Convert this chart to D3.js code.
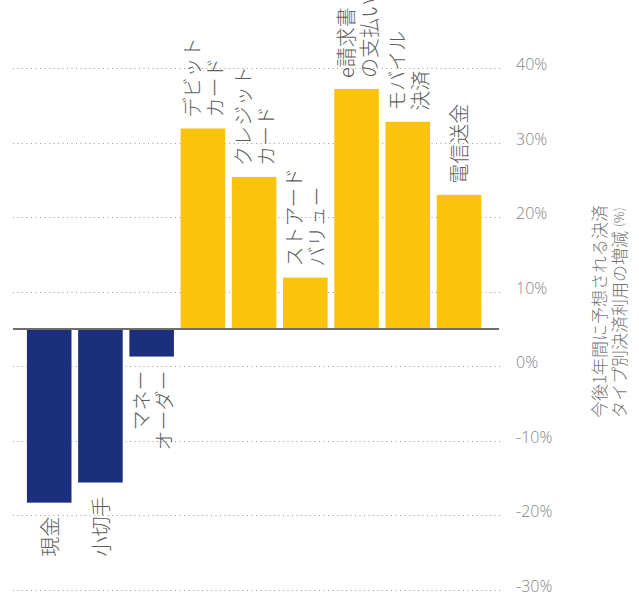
<!DOCTYPE html>
<html lang="ja">
<head>
<meta charset="utf-8">
<script src="https://cdn.jsdelivr.net/npm/d3@7"></script>
<style>
  html, body { margin: 0; padding: 0; background: #fff; }
  svg { display: block; }
  .cat { font-family: "Noto Sans CJK JP", "Noto Sans", sans-serif; font-weight: 300; fill: #5e5e5e; }
  .tick-label { font-family: "Open Sans", "Noto Sans", sans-serif; font-weight: 300; fill: #858585; }
  .title { font-family: "Noto Sans CJK JP", sans-serif; font-weight: 300; fill: #747474; }
</style>
</head>
<body>
<svg id="chart" width="639" height="595"></svg>
<script>
// Payment types and their expected change in use over the coming year (%)
const categories = [
  ["現金"],
  ["小切手"],
  ["マネー", "オーダー"],
  ["デビット", "カード"],
  ["クレジット", "カード"],
  ["ストアード", "バリュー"],
  ["e請求書", "の支払い"],
  ["モバイル", "決済"],
  ["電信送金"]
];
const changes = [-23.3, -20.6, -3.7, 26.9, 20.4, 6.9, 32.2, 27.8, 18.0];
const tickValues = [40, 30, 20, 10, 0, -10, -20, -30];
const titleLines = ["今後1年間に予想される決済", "タイプ別決済利用の増減"];

const NAVY = "#1b2f7d";
const GOLD = "#fcc30c";

const svg = d3.select("#chart");

// Axis scale for gridlines and tick labels
const y = d3.scaleLinear().domain([-30, 40]).range([590, 68.3]);

// Bars hang from the drawn baseline, which sits above the 0% gridline
const baseY = 329;
const yBar = y.copy().range(y.range().map(r => r - (y(0) - baseY)));

const x = d3.scaleBand()
  .domain(d3.range(categories.length))
  .range([23.6, 484.6])
  .paddingInner(0.13)
  .paddingOuter(0.065);

// Dotted gridlines
svg.append("g")
  .selectAll("line")
  .data(tickValues)
  .join("line")
  .attr("x1", 13).attr("x2", 500)
  .attr("y1", d => Math.round(y(d)) + 0.5)
  .attr("y2", d => Math.round(y(d)) + 0.5)
  .attr("stroke", "#9a9a9a")
  .attr("stroke-width", 1)
  .attr("stroke-dasharray", "1,3.5");

// Tick labels on the right (plain hyphen for negatives)
svg.append("g")
  .selectAll("text")
  .data(tickValues)
  .join("text")
  .attr("class", "tick-label")
  .attr("x", 516)
  .attr("y", d => y(d) + 2)
  .attr("font-size", 16)
  .text(d => String(d) + "%");

// Bars
svg.append("g")
  .selectAll("rect")
  .data(changes)
  .join("rect")
  .attr("x", (d, i) => x(i))
  .attr("width", x.bandwidth())
  .attr("y", d => Math.min(yBar(d), yBar(0)))
  .attr("height", d => Math.abs(yBar(d) - yBar(0)))
  .attr("fill", d => d < 0 ? NAVY : GOLD);

// Baseline
svg.append("line")
  .attr("x1", 13).attr("x2", 499)
  .attr("y1", baseY).attr("y2", baseY)
  .attr("stroke", "#6e6e6e")
  .attr("stroke-width", 2);

// Rotated category labels placed just beyond each bar end
const lineGap = 23;
const labels = svg.append("g")
  .selectAll("g")
  .data(categories.map((lines, i) => ({ lines, v: changes[i], i })))
  .join("g")
  .attr("transform", d => {
    const cx = x(d.i) + x.bandwidth() / 2;
    const yy = d.v >= 0 ? yBar(d.v) - 11 : yBar(d.v) + 14;
    return `translate(${cx},${yy}) rotate(-90)`;
  });

labels.each(function (d) {
  const g = d3.select(this);
  const n = d.lines.length;
  g.selectAll("text")
    .data(d.lines)
    .join("text")
    .attr("class", "cat")
    .attr("font-size", 20)
    .attr("x", 0)
    .attr("y", (t, k) => (k - (n - 1) / 2) * lineGap)
    .attr("dominant-baseline", "central")
    .attr("text-anchor", d.v >= 0 ? "start" : "end")
    .text(t => t);
});

// Vertical axis title on the far right
const title = svg.append("g")
  .attr("transform", "translate(598,418) rotate(-90)");
title.selectAll("text")
  .data(titleLines)
  .join("text")
  .attr("class", "title")
  .attr("font-size", 17)
  .attr("x", 0)
  .attr("y", (t, k) => k * 20)
  .attr("dominant-baseline", "central")
  .each(function (t, k) {
    const el = d3.select(this);
    el.append("tspan").text(t);
    if (k === 1) {
      el.append("tspan").attr("font-size", 13).attr("dx", 4).text("(%)");
    }
  });
</script>
</body>
</html>
